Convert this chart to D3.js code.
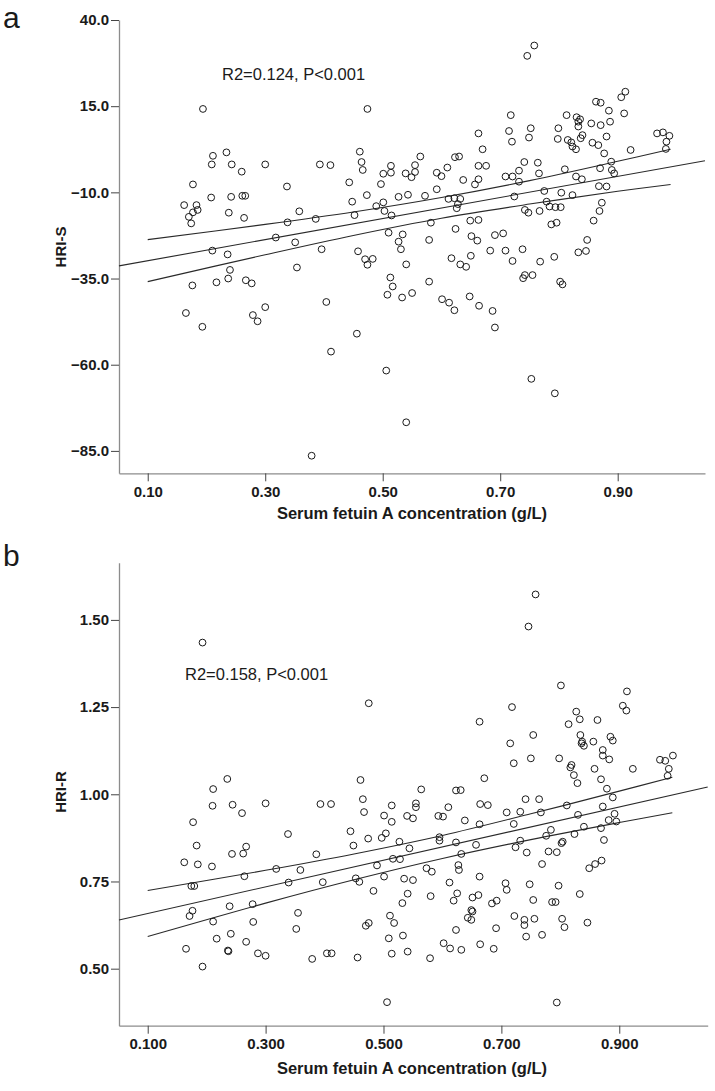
<!DOCTYPE html>
<html>
<head>
<meta charset="utf-8">
<script src="https://cdn.jsdelivr.net/npm/d3@7"></script>
<style>
  html, body { margin: 0; padding: 0; background: #fff; }
  svg { display: block; }
  text { font-family: "Liberation Sans", Arial, sans-serif; fill: #1a1a1a; }
</style>
</head>
<body>
<svg id="chart" width="715" height="1091"></svg>
<script>
// ---------------- Panel a data : HRI-S vs serum fetuin A ----------------
const aFetuin = [0.194,0.474,0.211,0.234,0.209,0.243,0.260,0.300,0.393,0.411,0.461,0.464,0.466,0.177,0.337,0.443,0.497,0.501,0.514,0.514,
0.539,0.549,0.555,0.555,0.162,0.183,0.185,0.177,0.170,0.174,0.208,0.242,0.261,0.266,0.238,0.264,0.358,0.338,0.386,0.318,
0.351,0.210,0.236,0.396,0.448,0.473,0.452,0.489,0.501,0.503,0.515,0.527,0.543,0.510,0.534,0.527,0.531,0.540,0.458,0.470,
0.483,0.474,0.354,0.240,0.237,0.217,0.176,0.267,0.277,0.404,0.513,0.517,0.508,0.533,0.550,0.165,0.279,0.287,0.300,0.193,
0.456,0.412,0.379,0.579,0.601,0.613,0.622,0.648,0.664,0.687,0.691,0.739,0.742,0.755,0.802,0.806,0.506,0.540,0.753,0.793,
0.564,0.572,0.582,0.579,0.592,0.600,0.610,0.623,0.630,0.637,0.663,0.670,0.663,0.676,0.663,0.657,0.592,0.612,0.622,0.632,
0.628,0.626,0.624,0.649,0.663,0.651,0.661,0.691,0.705,0.683,0.709,0.721,0.738,0.650,0.617,0.632,0.642,0.768,0.792,0.833,
0.846,0.848,0.859,0.869,0.873,0.868,0.881,0.718,0.715,0.720,0.752,0.749,0.741,0.764,0.766,0.709,0.721,0.732,0.732,0.724,
0.775,0.779,0.784,0.794,0.803,0.742,0.748,0.767,0.787,0.796,0.804,0.823,0.810,0.829,0.839,0.870,0.889,0.890,0.894,0.799,
0.798,0.813,0.815,0.821,0.823,0.829,0.830,0.833,0.836,0.833,0.837,0.840,0.855,0.857,0.867,0.871,0.881,0.877,0.887,0.885,
0.863,0.871,0.906,0.913,0.911,0.922,0.967,0.977,0.988,0.983,0.982,0.758,0.746];
const aHRIS = [14.2,14.2,0.6,1.6,-1.9,-1.9,-4.0,-1.9,-1.9,-2.1,1.8,-1.2,-3.5,-7.7,-8.3,-7.1,-7.6,-4.6,-2.3,-4.3,
-4.5,-5.6,-2.1,-4.1,-13.7,-13.7,-15.1,-15.8,-17.1,-19.0,-11.5,-11.3,-11.0,-11.0,-15.9,-17.4,-15.5,-18.7,-17.7,-23.1,
-24.5,-26.9,-28.0,-26.5,-12.7,-10.8,-16.6,-14.0,-12.9,-15.4,-16.7,-11.3,-10.7,-21.7,-22.2,-24.3,-26.5,-30.9,-27.1,-29.4,
-29.3,-31.0,-31.8,-32.5,-35.0,-36.1,-37.0,-35.5,-36.4,-41.8,-34.7,-37.3,-39.7,-40.5,-39.2,-45.0,-45.6,-47.4,-43.3,-49.0,
-51.0,-56.2,-86.4,-35.9,-41.0,-42.0,-44.2,-40.2,-42.9,-44.4,-49.2,-34.9,-34.0,-34.0,-35.9,-36.7,-61.7,-76.7,-64.1,-68.3,
0.4,-11.0,-18.8,-23.8,-4.3,-5.3,-2.8,0.2,0.4,-6.4,7.1,2.5,-2.3,-2.3,-6.2,-7.7,-9.1,-11.9,-11.7,-11.9,
-13.4,-14.6,-20.6,-18.2,-18.0,-22.7,-24.0,-22.4,-21.9,-26.9,-26.9,-29.9,-26.5,-28.4,-29.1,-30.9,-31.6,-30.1,-28.7,-27.4,
-27.0,-23.8,-18.2,-15.4,-13.0,-8.2,-8.3,12.4,7.8,4.7,8.6,5.9,-1.2,-1.4,-4.5,-5.4,-5.4,-3.7,-6.9,-11.2,
-9.6,-12.7,-14.1,-14.3,-14.3,-15.1,-15.9,-15.4,-19.3,-18.8,-10.1,-10.8,-3.3,-5.4,-6.2,-3.0,-1.1,-3.5,-4.5,8.6,
5.5,12.4,5.2,4.5,3.3,2.5,11.8,10.5,11.2,9.1,5.7,6.6,10.0,4.4,3.7,9.5,6.2,1.3,10.5,13.7,
16.3,16.0,17.6,19.2,12.9,2.3,7.1,7.4,6.4,4.7,2.6,32.6,29.6];
const aFit = [-32.9, 30.6];              // intercept, slope
const aCiX = [0.10, 0.30, 0.45, 0.60, 0.75, 0.90, 0.99];
const aCiLow = [-35.9, -28.1, -22.5, -17.5, -13.4, -9.7, -7.7];
const aCiHigh = [-23.7, -19.3, -15.7, -11.5, -6.6, -1.0, 2.5];
const aXTicks = [0.10, 0.30, 0.50, 0.70, 0.90];
const aYTicks = [-85, -60, -35, -10, 15, 40];

// ---------------- Panel b data : HRI-R vs serum fetuin A ----------------
const bFetuin = [0.235,0.211,0.210,0.244,0.260,0.300,0.393,0.411,0.461,0.465,0.467,0.177,0.183,0.162,0.185,0.209,0.243,0.262,0.267,0.338,
0.386,0.359,0.318,0.264,0.174,0.179,0.339,0.397,0.176,0.171,0.239,0.278,0.211,0.279,0.355,0.352,0.217,0.241,0.267,0.236,
0.237,0.165,0.193,0.287,0.300,0.379,0.404,0.412,0.456,0.444,0.449,0.474,0.497,0.504,0.501,0.514,0.514,0.540,0.550,0.555,
0.555,0.527,0.544,0.516,0.528,0.489,0.453,0.459,0.501,0.535,0.550,0.541,0.532,0.483,0.511,0.518,0.470,0.475,0.509,0.533,
0.514,0.541,
0.564,0.579,0.573,0.582,0.580,0.612,0.593,0.601,0.610,0.623,0.631,0.638,0.595,0.595,0.623,0.632,0.627,0.628,0.657,0.663,
0.664,0.677,0.671,0.663,0.663,0.625,0.619,0.651,0.661,0.649,0.651,0.643,0.649,0.623,0.684,0.692,0.691,0.664,0.687,0.602,
0.613,0.632,0.707,0.709,0.722,0.739,0.739,0.756,0.742,0.769,0.748,0.754,0.786,0.792,0.797,0.803,0.807,0.833,0.846,0.769,
0.780,0.794,0.802,0.804,0.824,0.840,0.869,0.874,0.849,0.859,0.870,0.743,0.724,0.732,0.721,0.709,0.732,0.741,0.764,0.767,
0.776,0.784,0.811,0.830,0.872,0.882,0.892,0.895,0.889,0.879,0.869,0.829,0.823,0.817,0.819,0.798,0.858,0.872,0.883,0.872,
0.856,0.834,0.836,0.840,0.837,0.885,0.889,0.814,0.827,0.833,0.863,0.906,0.912,0.913,0.923,0.969,0.978,0.991,0.984,0.982,
0.750,0.715,0.754,0.721,0.718,0.758,0.746,0.801,0.475,0.193,0.506,0.794];
const bHRIR = [1.044,1.015,0.967,0.970,0.946,0.974,0.972,0.972,1.041,0.986,0.949,0.920,0.853,0.805,0.799,0.793,0.829,0.830,0.850,0.886,
0.828,0.783,0.786,0.765,0.737,0.737,0.747,0.748,0.666,0.651,0.679,0.685,0.635,0.634,0.660,0.614,0.586,0.600,0.577,0.552,
0.550,0.557,0.506,0.544,0.537,0.528,0.544,0.544,0.532,0.894,0.853,0.873,0.875,0.888,0.939,0.921,0.968,0.938,0.931,0.974,
0.963,0.864,0.845,0.815,0.814,0.796,0.759,0.749,0.764,0.758,0.754,0.715,0.688,0.723,0.652,0.631,0.623,0.631,0.587,0.595,
0.543,0.549,
1.014,0.530,0.788,0.778,0.708,0.747,0.938,0.936,0.963,1.011,1.012,0.925,0.877,0.867,0.862,0.829,0.797,0.783,0.855,0.914,
0.972,0.969,1.046,1.208,0.764,0.716,0.695,0.704,0.711,0.668,0.664,0.646,0.640,0.611,0.687,0.695,0.616,0.570,0.557,0.573,
0.558,0.554,0.745,0.726,0.651,0.640,0.625,0.643,0.592,0.597,0.742,0.697,0.691,0.691,0.738,0.643,0.619,0.714,0.632,0.800,
0.836,0.834,0.860,0.864,0.886,0.907,0.903,0.869,0.788,0.800,0.810,0.833,0.848,0.867,0.915,0.948,0.950,0.986,0.986,0.948,
0.881,0.898,0.968,0.941,0.965,0.926,0.944,0.922,0.991,1.016,1.043,1.032,1.055,1.077,1.084,1.103,1.073,1.111,1.100,1.127,
1.151,1.170,1.146,1.139,1.151,1.165,1.154,1.201,1.237,1.215,1.213,1.254,1.240,1.295,1.073,1.099,1.096,1.111,1.073,1.053,
1.103,1.146,1.170,1.089,1.250,1.573,1.481,1.312,1.261,1.435,0.404,0.403];
const bFit = [0.620, 0.382];             // intercept, slope
const bCiX = [0.10, 0.30, 0.45, 0.60, 0.75, 0.90, 0.99];
const bCiLow = [0.592, 0.688, 0.755, 0.816, 0.870, 0.919, 0.947];
const bCiHigh = [0.724, 0.782, 0.829, 0.882, 0.944, 1.009, 1.049];
const bXTicks = [0.10, 0.30, 0.50, 0.70, 0.90];
const bYTicks = [0.50, 0.75, 1.00, 1.25, 1.50];

const svg = d3.select("#chart");

function drawPanel(p) {
  const g = svg.append("g");
  const x = d3.scaleLinear().domain(p.xDomain).range([p.left, p.right]);
  const y = d3.scaleLinear().domain(p.yDomain).range([p.bottom, p.top]);

  // axes
  const xAxis = g.append("g").attr("transform", `translate(0,${p.bottom})`)
    .call(d3.axisBottom(x).tickValues(p.xTicks).tickFormat(d3.format(p.xFmt))
      .tickSize(8).tickSizeOuter(0).tickPadding(5));
  const yAxis = g.append("g").attr("transform", `translate(${p.left},0)`)
    .call(d3.axisLeft(y).tickValues(p.yTicks).tickFormat(d3.format(p.yFmt))
      .tickSize(8).tickSizeOuter(0).tickPadding(2));
  [xAxis, yAxis].forEach(a => {
    a.select(".domain").attr("stroke", "#8c8c8c").attr("stroke-width", 1.3);
    a.selectAll(".tick line").attr("stroke", "#444").attr("stroke-width", 1);
    a.selectAll(".tick text").attr("font-size", 15).attr("font-weight", "bold")
      .attr("fill", "#1a1a1a").attr("font-family", '"Liberation Sans", Arial, sans-serif');
  });

  // CI lines
  const ciLine = d3.line().x(d => x(d[0])).y(d => y(d[1])).curve(d3.curveCatmullRom);
  [p.ciLow, p.ciHigh].forEach(arr => {
    g.append("path").datum(p.ciX.map((v, i) => [v, arr[i]]))
      .attr("d", ciLine).attr("fill", "none").attr("stroke", "#2a2a2a").attr("stroke-width", 1.1);
  });
  // fit line across full x range
  const fx = x.domain();
  g.append("path").datum(fx.map(v => [v, p.fit[0] + p.fit[1] * v]))
    .attr("d", d3.line().x(d => x(d[0])).y(d => y(d[1])))
    .attr("fill", "none").attr("stroke", "#2a2a2a").attr("stroke-width", 1.1);

  // points
  g.append("g").selectAll("circle").data(p.xs.map((v, i) => [v, p.ys[i]])).join("circle")
    .attr("cx", d => x(d[0])).attr("cy", d => y(d[1])).attr("r", 3.4)
    .attr("fill", "none").attr("stroke", "#1a1a1a").attr("stroke-width", 1);

  // labels
  g.append("text").attr("x", 3).attr("y", p.panelY).attr("font-size", 30).text(p.panel);
  g.append("text").attr("x", p.statX).attr("y", p.statY).attr("font-size", 16.5).text(p.stat);
  g.append("text").attr("transform", `translate(66,${p.yTitleY}) rotate(-90)`)
    .attr("text-anchor", "middle").attr("font-size", 15).attr("font-weight", "bold").text(p.yTitle);
  g.append("text").attr("x", 412).attr("y", p.xTitleY).attr("text-anchor", "middle")
    .attr("font-size", 16.5).attr("font-weight", "bold").text("Serum fetuin A concentration (g/L)");
}

drawPanel({
  xs: aFetuin, ys: aHRIS, fit: aFit, ciX: aCiX, ciLow: aCiLow, ciHigh: aCiHigh,
  xTicks: aXTicks, yTicks: aYTicks, xFmt: ".2f", yFmt: ".1f",
  xDomain: [0.0511, 1.0486], yDomain: [-91.5, 40],
  left: 119, right: 705, top: 20, bottom: 473.3,
  panel: "a", panelY: 28, stat: "R2=0.124, P<0.001", statX: 222, statY: 80,
  yTitle: "HRI-S", yTitleY: 247, xTitleY: 519
});
drawPanel({
  xs: bFetuin, ys: bHRIR, fit: bFit, ciX: bCiX, ciLow: bCiLow, ciHigh: bCiHigh,
  xTicks: bXTicks, yTicks: bYTicks, xFmt: ".3f", yFmt: ".2f",
  xDomain: [0.0513, 1.050], yDomain: [0.3365, 1.664],
  left: 119, right: 707.7, top: 562.7, bottom: 1025.7,
  panel: "b", panelY: 566, stat: "R2=0.158, P<0.001", statX: 185, statY: 680,
  yTitle: "HRI-R", yTitleY: 792, xTitleY: 1074
});
</script>
</body>
</html>
